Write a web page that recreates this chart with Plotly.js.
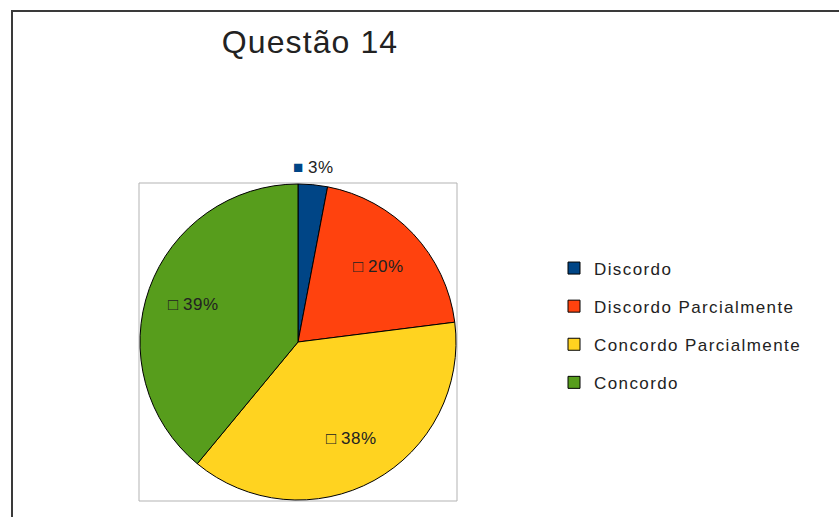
<!DOCTYPE html>
<html>
<head>
<meta charset="utf-8">
<script src="https://cdn.plot.ly/plotly-3.0.1.min.js"></script>
<style>html,body{margin:0;padding:0;background:#fff;}#chart{width:839px;height:517px;}</style>
</head>
<body>
<div id="chart"></div>
<script>
const categories = ["Discordo", "Discordo Parcialmente", "Concordo Parcialmente", "Concordo"];
const values = [3, 20, 38, 39];
const colors = ["#004586", "#ff420e", "#ffd320", "#579d1c"];
const titleText = "Questão 14";

const W = 839, H = 517;
const cx = 298, cy = 342, R = 158;
const FONT = 'Liberation Sans, Arial, sans-serif';

const legendLabels = categories.map(c => '<span style="font-size:17px;baseline-shift:4px;letter-spacing:1.4px">' + c + '</span>');

const trace = {
  type: 'pie',
  labels: legendLabels,
  values: values,
  sort: false,
  direction: 'clockwise',
  rotation: 0,
  marker: {colors: colors, line: {color: '#000', width: 1}},
  textinfo: 'none',
  hoverinfo: 'label+percent',
  domain: {x: [(cx - R) / W, (cx + R) / W], y: [(H - cy - R) / H, (H - cy + R) / H]}
};

// data labels placed along each slice's bisector (derived from the values)
const total = values.reduce((a, b) => a + b, 0);
let cum = 0;
const annotations = values.map((v, i) => {
  const mid = (cum + v / 2) / total * 2 * Math.PI;
  cum += v;
  const pct = Math.round(v / total * 100) + '%';
  const outside = v / total < 0.05;
  const r = outside ? R + 6 : R * 0.7;
  const px = cx + r * Math.sin(mid), py = cy - r * Math.cos(mid);
  const sym = outside ? '<span style="color:' + colors[i] + '">■</span>' : '□';
  return {
    xref: 'paper', yref: 'paper', x: px / W, y: (H - py) / H,
    xanchor: 'center', yanchor: outside ? 'bottom' : 'middle',
    text: sym + ' <span style="letter-spacing:0.6px">' + pct + '</span>',
    showarrow: false,
    font: {family: FONT, size: 17, color: '#222'}
  };
});

const layout = {
  width: W, height: H,
  margin: {l: 0, r: 0, t: 0, b: 0},
  paper_bgcolor: '#fff',
  title: {text: '<span style="letter-spacing:1.1px">' + titleText + '</span>', x: 310 / W, xanchor: 'center', xref: 'paper', y: 1 - 42 / H, yref: 'container', yanchor: 'middle',
          font: {family: FONT, size: 32, color: '#222'}},
  showlegend: true,
  legend: {x: 554 / W, xanchor: 'left', y: 1 - 244 / H, yanchor: 'top', itemwidth: 30,
           font: {family: FONT, size: 27, color: '#222'}, bgcolor: 'rgba(0,0,0,0)'},
  annotations: annotations,
  shapes: [
    {type: 'rect', xref: 'paper', yref: 'paper', x0: (cx - R - 1) / W, x1: (cx + R + 1) / W, y0: (H - cy - R - 1) / H, y1: (H - cy + R + 1) / H,
     line: {color: '#b3b3b3', width: 1}, fillcolor: 'rgba(0,0,0,0)', layer: 'below'},
    {type: 'rect', xref: 'paper', yref: 'paper', x0: 12 / W, x1: 1.05, y0: -0.05, y1: 1 - 11 / H,
     line: {color: '#3a3a3a', width: 2}, fillcolor: 'rgba(0,0,0,0)', layer: 'above'}
  ]
};

Plotly.newPlot('chart', [trace], layout, {displayModeBar: false, staticPlot: true});
</script>
</body>
</html>
